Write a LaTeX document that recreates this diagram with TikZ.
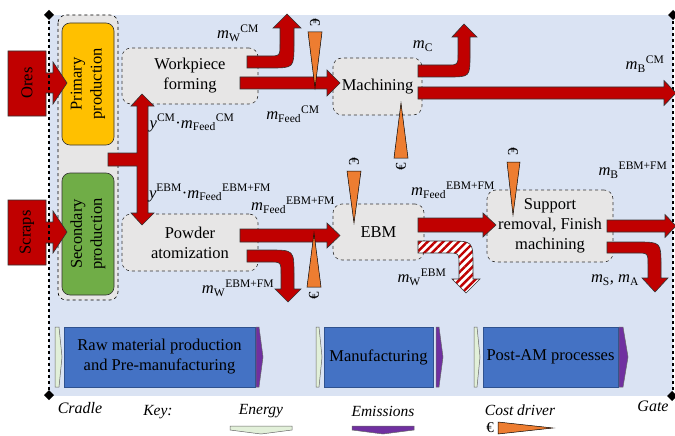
\documentclass[tikz,border=0pt]{standalone}
\usepackage{fontspec}
\usepackage{amsmath}
\setmainfont{Liberation Serif}
\usetikzlibrary{patterns.meta}
\definecolor{bgblue}{HTML}{DAE3F3}
\definecolor{procgray}{HTML}{E7E6E6}
\definecolor{arrred}{HTML}{C00000}
\definecolor{costor}{HTML}{ED7D31}
\definecolor{prodyel}{HTML}{FFC000}
\definecolor{prodgrn}{HTML}{70AD47}
\definecolor{phblue}{HTML}{4472C4}
\definecolor{phbord}{HTML}{2F528F}
\definecolor{energ}{HTML}{E2F0D9}
\definecolor{emis}{HTML}{7030A0}
\newcommand{\mlab}[2]{\textit{m}$_{\text{#1}}{}^{\text{#2}}$}
\newcommand{\blockarr}[6]{% xstart, headbase, tip, yc, shafthalf, headhalf
  \filldraw[redarrow] ({#1},{#4-#5}) -- ({#2},{#4-#5}) -- ({#2},{#4-#6}) -- ({#3},{#4}) -- ({#2},{#4+#6}) -- ({#2},{#4+#5}) -- ({#1},{#4+#5}) -- cycle;}
\begin{document}
\begin{tikzpicture}[x=1pt,y=-1pt,
  every node/.style={font=\fontsize{16.5}{20}\selectfont, inner sep=0pt},
  procbox/.style={draw=black!80, dashed, fill=procgray, rounded corners=9pt, align=center, line width=0.6pt},
  prodbox/.style={draw=black!80, rounded corners=8pt, line width=0.6pt, align=center},
  redarrow/.style={fill=arrred, draw=black!80, line width=0.6pt},
  costdrv/.style={fill=costor, draw=black, line width=0.5pt},
  eurolab/.style={font=\fontsize{15}{15}\selectfont},
  phase/.style={fill=phblue, draw=phbord, line width=0.6pt, align=center},
  keylab/.style={font=\fontsize{15.5}{18}\selectfont\itshape},
  lab/.style={font=\fontsize{16.5}{20}\selectfont}
]
\useasboundingbox (0,0) rectangle (675,436);
% background
\fill[bgblue] (49,15) rectangle (673,396);

% production group
\filldraw[fill=procgray, draw=black, dashed, rounded corners=8pt, line width=0.6pt] (58,15) rectangle (118,300);
\node[prodbox, fill=prodyel, minimum width=52pt, minimum height=122pt] (prim) at (88,84) {};
\node[rotate=90, align=center] at (prim.center) {Primary\\production};
\node[prodbox, fill=prodgrn, minimum width=52pt, minimum height=122pt] (sec) at (88,234) {};
\node[rotate=90, align=center] at (sec.center) {Secondary\\production};

% Ores and Scraps
\filldraw[redarrow] (8,51) -- (46,51) -- (46,73) -- (53,73) -- (53,62) -- (67,83) -- (53,104) -- (53,93) -- (46,93) -- (46,116) -- (8,116) -- cycle;
\node[rotate=90] (ores) at (27,83) {Ores};
\filldraw[redarrow] (8,200) -- (46,200) -- (46,222) -- (53,222) -- (53,211) -- (67,232) -- (53,253) -- (53,243) -- (46,243) -- (46,265) -- (8,265) -- cycle;
\node[rotate=90] (scraps) at (27,232.5) {Scraps};

% cradle and gate lines
\draw[black, dashed, line width=1.6pt] (49,15) -- (49,395);
\fill (49,10) -- (54,15) -- (49,20) -- (44,15) -- cycle;
\fill (49,390) -- (54,395) -- (49,400) -- (44,395) -- cycle;
\draw[black, dashed, line width=1.6pt] (673,15) -- (673,396);
\fill (673,10) -- (678,15) -- (673,20) -- (668,15) -- cycle;
\fill (672,391) -- (677,396) -- (672,401) -- (667,396) -- cycle;

% process boxes
\node[procbox, minimum width=136pt, minimum height=56pt] (wf) at (190,76) {Workpiece\\forming};
\node[procbox, minimum width=136pt, minimum height=57pt] (pa) at (190,242.5) {Powder\\atomization};
\node[procbox, minimum width=89pt, minimum height=57pt] (mach) at (377.5,86.5) {Machining};
\node[procbox, minimum width=91pt, minimum height=56pt] (ebm) at (378.5,232) {EBM};
\node[procbox, minimum width=126pt, minimum height=72pt] (sup) at (550,226) {Support\\removal, Finish\\machining};

% double vertical arrow with branch
\filldraw[redarrow] (142,94) -- (154,106) -- (148,106) -- (148,213) -- (154,213) -- (142,225) -- (131,213) -- (137,213) -- (137,166) -- (108,166) -- (108,153) -- (137,153) -- (137,106) -- (131,106) -- cycle;

% straight flows
\blockarr{240}{327}{340}{83}{6}{13}
\blockarr{240}{327}{340}{235.5}{6.5}{12.5}
\blockarr{418}{664}{676}{93}{6}{12.5}
\blockarr{418}{483}{496}{225}{7}{12}
\blockarr{607}{665}{676}{226}{6}{11.5}

% bent flows
\filldraw[redarrow] (247,56) -- (268,56) .. controls (280,56) .. (280,44) -- (280,28) -- (273,28) -- (287,14) -- (301,28) -- (294,28) -- (294,44) .. controls (294,68) .. (270,68) -- (247,68) -- cycle;
\filldraw[redarrow] (418,65) -- (447,65) .. controls (458,65) .. (458,54) -- (458,37) -- (452,37) -- (464,24) -- (477,37) -- (470,37) -- (470,55) .. controls (470,77) .. (448,77) -- (418,77) -- cycle;
\filldraw[redarrow] (247,250) -- (269,250) .. controls (294,250) .. (294,275) -- (294,289) -- (301,289) -- (288,302) -- (275,289) -- (281,289) -- (281,274) .. controls (281,262) .. (269,262) -- (247,262) -- cycle;
\filldraw[redarrow] (607,242) -- (637,242) .. controls (661,242) .. (661,266) -- (661,278) -- (668,278) -- (655,292) -- (642,278) -- (648,278) -- (648,265) .. controls (648,253) .. (636,253) -- (607,253) -- cycle;
\path[fill=white] (418,241) -- (448,241) .. controls (473,241) .. (473,266) -- (473,279) -- (480,279) -- (466,293) -- (452,279) -- (459,279) -- (459,265) .. controls (459,253) .. (447,253) -- (418,253) -- cycle;
\path[pattern={Lines[angle=45,distance=5.5pt,line width=2.4pt]}, pattern color=arrred] (418,241) -- (448,241) .. controls (473,241) .. (473,266) -- (473,279) -- (480,279) -- (466,293) -- (452,279) -- (459,279) -- (459,265) .. controls (459,253) .. (447,253) -- (418,253) -- cycle;
\draw[black!80, line width=0.6pt] (418,241) -- (448,241) .. controls (473,241) .. (473,266) -- (473,279) -- (480,279) -- (466,293) -- (452,279) -- (459,279) -- (459,265) .. controls (459,253) .. (447,253) -- (418,253) -- cycle;

% cost drivers
\filldraw[costdrv] (308,32) -- (322,32) -- (315,88) -- cycle;
\node[eurolab, rotate=-90] (e1) at (315,22) {€};
\filldraw[costdrv] (394,158) -- (408,158) -- (401,103) -- cycle;
\node[eurolab, rotate=90] (e2) at (401,167) {€};
\filldraw[costdrv] (307,287) -- (321,287) -- (314,233) -- cycle;
\node[eurolab, rotate=90] (e3) at (314,296) {€};
\filldraw[costdrv] (347,171) -- (361,171) -- (354,223) -- cycle;
\node[eurolab, rotate=-90] (e4) at (354,161) {€};
\filldraw[costdrv] (507,162) -- (520,162) -- (513,215) -- cycle;
\node[eurolab, rotate=-90] (e5) at (513,151) {€};

% flow labels
\node[lab] (l1) at (238,33) {\mlab{W}{CM}};
\node[lab] (l2) at (293,114) {\mlab{Feed}{CM}};
\node[lab] (l3) at (192,123) {\textit{y}$^{\text{CM}}$·\mlab{Feed}{CM}};
\node[lab] (l4) at (210,193) {\textit{y}$^{\text{EBM}}$·\mlab{Feed}{EBM+FM}};
\node[lab] (l5) at (293,205) {\mlab{Feed}{EBM+FM}};
\node[lab] (l6) at (238,288) {\mlab{W}{EBM+FM}};
\node[lab] (l7) at (423,46) {\textit{m}$_{\text{C}}$};
\node[lab] (l8) at (645,64) {\mlab{B}{CM}};
\node[lab] (l9) at (453,190) {\mlab{Feed}{EBM+FM}};
\node[lab] (l10) at (633,170) {\mlab{B}{EBM+FM}};
\node[lab] (l11) at (422,277) {\mlab{W}{EBM}};
\node[lab] (l12) at (615,280) {\textit{m}$_{\text{S}}$, \textit{m}$_{\text{A}}$};

% phases
\filldraw[fill=energ, draw=black!60, line width=0.5pt] (55,327) -- (59,327) -- (62,357) -- (59,387) -- (55,387) -- cycle;
\node[phase, minimum width=191pt, minimum height=60pt] (ph1) at (159.5,357) {Raw material production\\and Pre-manufacturing};
\filldraw[fill=emis, draw=black!60, line width=0.5pt] (256,327) -- (259,327) -- (263,357) -- (259,387) -- (256,387) -- cycle;
\filldraw[fill=energ, draw=black!60, line width=0.5pt] (316,327) -- (319,327) -- (322,357) -- (319,387) -- (316,387) -- cycle;
\node[phase, minimum width=109pt, minimum height=60pt] (ph2) at (378.5,357) {Manufacturing};
\filldraw[fill=emis, draw=black!60, line width=0.5pt] (436,327) -- (439,327) -- (443,357) -- (439,387) -- (436,387) -- cycle;
\filldraw[fill=energ, draw=black!60, line width=0.5pt] (474,327) -- (477,327) -- (480,357) -- (477,387) -- (474,387) -- cycle;
\node[phase, minimum width=135pt, minimum height=60pt] (ph3) at (550.5,357) {Post-AM processes};
\filldraw[fill=emis, draw=black!60, line width=0.5pt] (619,327) -- (623,327) -- (628,357) -- (623,387) -- (619,387) -- cycle;

% key
\node[keylab, font=\fontsize{16}{18}\selectfont\itshape] (cradle) at (80,408) {Cradle};
\node[keylab, font=\fontsize{16}{18}\selectfont\itshape] (gate) at (653,406) {Gate};
\node[keylab] (key) at (158,412) {Key:};
\node[keylab] (kenergy) at (261,411) {Energy};
\filldraw[fill=energ, draw=black!60, line width=0.5pt] (230,426) -- (292,426) -- (292,430) -- (261,434) -- (230,430) -- cycle;
\node[keylab] (kemis) at (383,411) {Emissions};
\filldraw[fill=emis, draw=black!60, line width=0.5pt] (352,426) -- (414,426) -- (414,430) -- (383,434) -- (352,430) -- cycle;
\node[keylab] (kcost) at (520,410) {Cost driver};
\node[eurolab] (keuro) at (490,428) {€};
\filldraw[costdrv] (498,422) -- (498,434) -- (553,428) -- cycle;
\end{tikzpicture}
\end{document}
